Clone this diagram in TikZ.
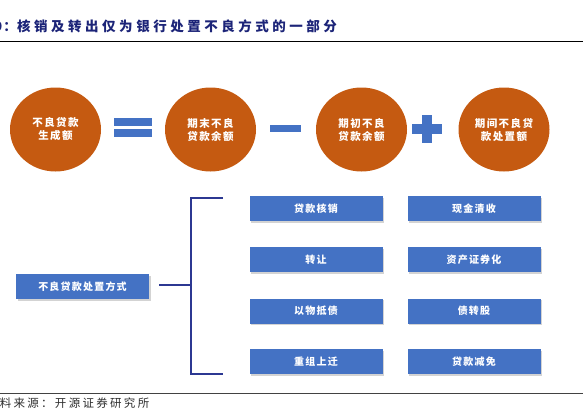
\documentclass[tikz,border=0pt]{standalone}
\usepackage{fontspec}
\newfontfamily\cjk{Noto Sans CJK SC}
\usetikzlibrary{shapes.geometric,shadows}
\definecolor{orangec}{RGB}{197,90,17}
\definecolor{blueb}{RGB}{68,114,196}
\definecolor{navyc}{RGB}{44,56,146}
\definecolor{titlec}{RGB}{28,36,120}
\definecolor{footc}{RGB}{45,45,45}
\begin{document}
\begin{tikzpicture}[x=1pt,y=-1pt,
  circ/.style={ellipse, fill=orangec, minimum width=91, minimum height=84, inner sep=0,
    text=white, align=center,
    font=\cjk\bfseries\fontsize{10.5}{13}\selectfont\addfontfeature{LetterSpace=14}},
  opbar/.style={rectangle, fill=blueb, draw=none, inner sep=0},
  boxs/.style={rectangle, fill=blueb, minimum width=133, minimum height=25, inner sep=0,
    text=white,
    font=\cjk\bfseries\fontsize{10}{12}\selectfont\addfontfeature{LetterSpace=12},
    drop shadow={shadow xshift=1.5pt, shadow yshift=-1.5pt, opacity=0.35, fill=gray}},
  brack/.style={draw=navyc, line width=1.2},
  titletext/.style={inner sep=0, text=titlec,
    font=\cjk\bfseries\fontsize{13.5}{15}\selectfont\addfontfeature{LetterSpace=26}},
  foottext/.style={inner sep=0, text=footc,
    font=\cjk\fontsize{11.5}{13}\selectfont\addfontfeature{LetterSpace=20}}
]
\useasboundingbox (0,0) rectangle (583,413);
\clip (0,0) rectangle (583,413);

% title
\node[titletext, anchor=base east] (tcol) at (17,31.5) {：};
\node[inner sep=0, text=titlec, font=\cjk\bfseries\fontsize{13.5}{15}\selectfont, anchor=base east] (tnum) at (2.5,31.5) {图9};
\node[titletext, anchor=base west] (title) at (17,31.5) {核销及转出仅为银行处置不良方式的一部分};
\coordinate (tl1) at (0,41);
\coordinate (tl2) at (583,41);
\draw[black, line width=0.9] (tl1) -- (tl2);

% circles
\node[circ] (c1) at (55.5,129.5) {不良贷款\\生成额};
\node[circ] (c2) at (210.5,129.5) {期末不良\\贷款余额};
\node[circ] (c3) at (361.5,129.5) {期初不良\\贷款余额};
\node[circ] (c4) at (504,129.5) {期间不良贷\\款处置额};

% operators
\node[opbar, minimum width=38, minimum height=8] (eqa) at (133,122) {};
\node[opbar, minimum width=38, minimum height=8] (eqb) at (133,133) {};
\node[opbar, minimum width=31, minimum height=7] (minus) at (285.5,128.5) {};
\node[opbar, minimum width=30, minimum height=10] (plush) at (427,129) {};
\node[opbar, minimum width=10, minimum height=28] (plusv) at (427,129) {};

% left box
\node[boxs] (lb) at (82.5,286.5) {不良贷款处置方式};

% right boxes
\node[boxs] (r11) at (316,208.5) {贷款核销};
\node[boxs] (r12) at (474,208.5) {现金清收};
\node[boxs] (r21) at (316,259.5) {转让};
\node[boxs] (r22) at (474,259.5) {资产证券化};
\node[boxs] (r31) at (316,311) {以物抵债};
\node[boxs] (r32) at (474,311) {债转股};
\node[boxs] (r41) at (316,361.5) {重组上迁};
\node[boxs] (r42) at (474,361.5) {贷款减免};

% bracket
\coordinate (stub) at (159,285);
\coordinate (bm) at (191,285);
\coordinate (btop) at (191,198);
\coordinate (bbot) at (191,374);
\coordinate (btopE) at (223,198);
\coordinate (bbotE) at (223,374);
\draw[brack] (stub) -- (bm);
\draw[brack] (btopE) -- (btop) -- (bbot) -- (bbotE);

% footer
\coordinate (fl1) at (0,393.3);
\coordinate (fl2) at (583,393.3);
\draw[footc!90!white, line width=1.2] (fl1) -- (fl2);
\node[foottext, anchor=base east] (foot) at (149.5,407.5) {资料来源：开源证券研究所};
\end{tikzpicture}
\end{document}
